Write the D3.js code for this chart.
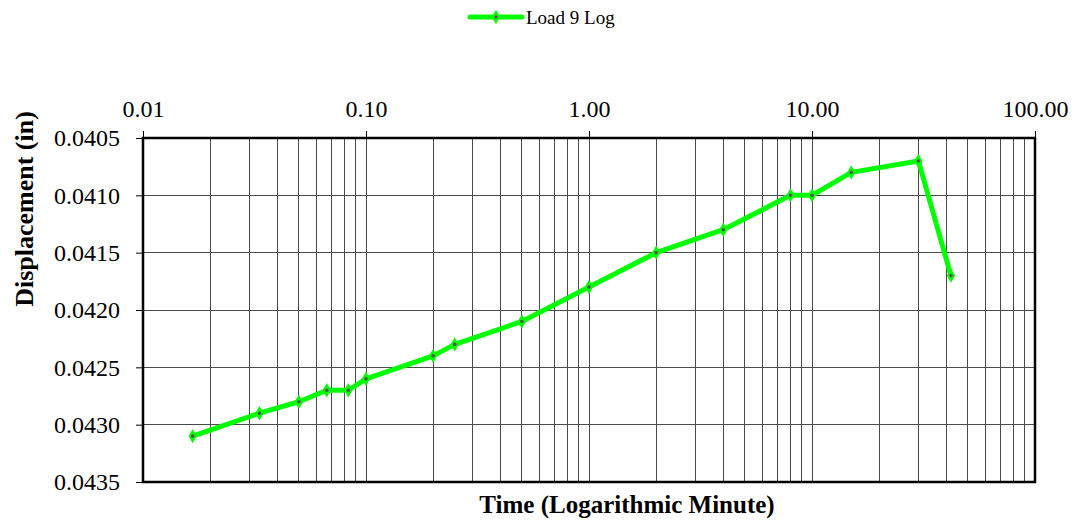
<!DOCTYPE html>
<html>
<head>
<meta charset="utf-8">
<script src="https://cdn.jsdelivr.net/npm/d3@7"></script>
<style>
  body { margin: 0; background: #fff; }
  svg { display: block; font-family: "Liberation Serif", "Times New Roman", serif; }
</style>
</head>
<body>
<div id="chart"></div>
<script>
// datos
const seriesName = "Load 9 Log";
const timeMin = [0.0167, 0.0333, 0.05, 0.0667, 0.0833, 0.1, 0.2, 0.25, 0.5, 1, 2, 4, 8, 10, 15, 30, 42];
const displacement = [0.0431, 0.0429, 0.0428, 0.0427, 0.0427, 0.0426, 0.0424, 0.0423, 0.0421, 0.0418, 0.0415, 0.0413, 0.0410, 0.0410, 0.0408, 0.0407, 0.0417];
const xTicks = [0.01, 0.1, 1, 10, 100];
const yTicks = [0.0405, 0.0410, 0.0415, 0.0420, 0.0425, 0.0430, 0.0435];

const width = 1075, height = 522;
const margin = { top: 138, right: 40, bottom: 40, left: 143 };
const plotW = 1035 - margin.left, plotH = 482 - margin.top;
const serif = "Liberation Serif, Times New Roman, serif";

const svg = d3.select("#chart").append("svg")
    .attr("width", width)
    .attr("height", height);

const x = d3.scaleLog().domain([0.01, 100]).range([0, plotW]);
const y = d3.scaleLinear().domain([0.0405, 0.0435]).range([0, plotH]);

const g = svg.append("g").attr("transform", `translate(${margin.left},${margin.top})`);

// rejilla vertical (1..9 por década)
g.selectAll(".vgrid")
    .data(x.ticks())
    .enter().append("line")
    .attr("x1", d => x(d)).attr("x2", d => x(d))
    .attr("y1", 0).attr("y2", plotH)
    .attr("stroke", "#4a4a4a")
    .attr("stroke-width", 1)
    .attr("shape-rendering", "crispEdges");

// rejilla horizontal
g.selectAll(".hgrid")
    .data(yTicks)
    .enter().append("line")
    .attr("x1", 0).attr("x2", plotW)
    .attr("y1", d => y(d)).attr("y2", d => y(d))
    .attr("stroke", "#4a4a4a")
    .attr("stroke-width", 1)
    .attr("shape-rendering", "crispEdges");

// ejes
const xAxis = g.append("g")
    .call(d3.axisTop(x).tickValues(xTicks).tickFormat(d3.format(".2f")).tickSize(7).tickPadding(14));
const yAxis = g.append("g")
    .call(d3.axisLeft(y).tickValues(yTicks).tickFormat(d3.format(".4f")).tickSize(7).tickPadding(16));

[xAxis, yAxis].forEach(a => {
    a.attr("font-family", serif).attr("font-size", 24);
    a.select(".domain").remove();
    a.selectAll("line").attr("stroke", "#000").attr("stroke-width", 1);
    a.selectAll("text")
        .attr("fill", "#000")
        .attr("font-family", serif)
        .style("font-size", "24px");
});

// marco
g.append("rect")
    .attr("x", 0).attr("y", 0)
    .attr("width", plotW).attr("height", plotH)
    .attr("fill", "none")
    .attr("stroke", "#000")
    .attr("stroke-width", 2.5);

// serie
const pts = timeMin.map((t, i) => [t, displacement[i]]);
const line = d3.line().x(d => x(d[0])).y(d => y(d[1]));

g.append("path")
    .datum(pts)
    .attr("d", line)
    .attr("fill", "none")
    .attr("stroke", "#00ff00")
    .attr("stroke-width", 5)
    .attr("stroke-linejoin", "round");

const diamond = d3.symbol().type(d3.symbolDiamond).size(60);
const markers = g.selectAll(".pt")
    .data(pts)
    .enter().append("g")
    .attr("transform", d => `translate(${x(d[0])},${y(d[1])})`);
markers.append("path").attr("d", diamond).attr("fill", "#00ff00");
markers.append("circle").attr("r", 1.8).attr("fill", "#555");

// títulos de ejes
svg.append("text")
    .attr("x", (margin.left + 1035) / 2 + 38)
    .attr("y", 513)
    .attr("text-anchor", "middle")
    .style("font-size", "25px")
    .style("font-weight", "bold")
    .text("Time (Logarithmic Minute)");

svg.append("text")
    .attr("transform", `translate(33, 209) rotate(-90)`)
    .attr("text-anchor", "middle")
    .style("font-size", "26px")
    .style("font-weight", "bold")
    .text("Displacement (in)");

// leyenda
const leg = svg.append("g").attr("transform", "translate(470, 17)");
leg.append("line")
    .attr("x1", 0).attr("x2", 52)
    .attr("y1", 0).attr("y2", 0)
    .attr("stroke", "#00ff00")
    .attr("stroke-width", 5)
    .attr("stroke-linecap", "round");
leg.append("path").attr("d", diamond).attr("transform", "translate(26,0)").attr("fill", "#00ff00");
leg.append("circle").attr("cx", 26).attr("r", 1.8).attr("fill", "#555");
leg.append("text")
    .attr("x", 56).attr("y", 7)
    .style("font-size", "19px")
    .text(seriesName);
</script>
</body>
</html>
